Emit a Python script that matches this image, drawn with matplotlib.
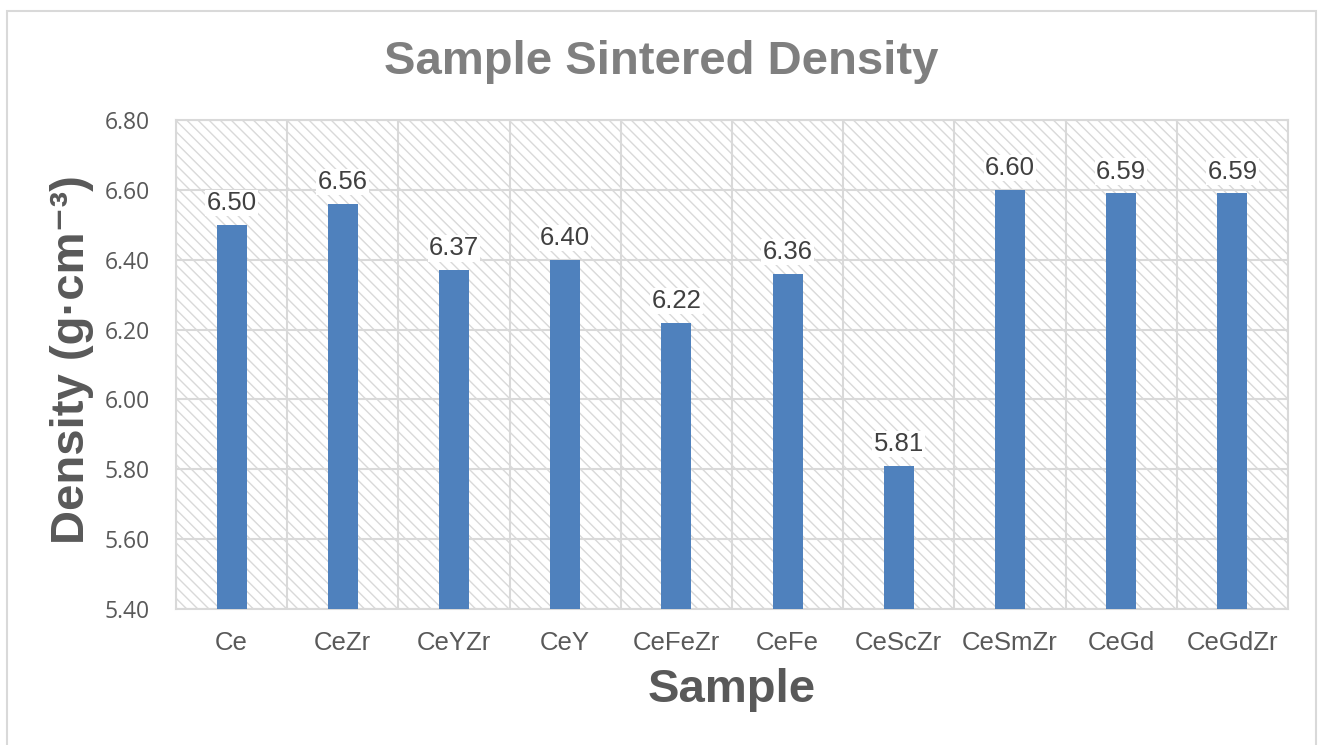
import matplotlib.pyplot as plt
from matplotlib.patches import Rectangle
from matplotlib.ticker import MultipleLocator, FixedLocator

plt.rcParams['hatch.color'] = '#d9d9d9'
plt.rcParams['hatch.linewidth'] = 1.0

samples = ['Ce', 'CeZr', 'CeYZr', 'CeY', 'CeFeZr', 'CeFe', 'CeScZr', 'CeSmZr', 'CeGd', 'CeGdZr']
density = [6.50, 6.56, 6.37, 6.40, 6.22, 6.36, 5.81, 6.60, 6.59, 6.59]

grid_col = '#d9d9d9'
text_col = '#595959'
bar_col = '#4f81bd'

fig = plt.figure(figsize=(13.18, 7.45), dpi=100)
ax = fig.add_axes([0.1335, 0.1826, 0.9772 - 0.1335, 0.8389 - 0.1826])

# hatched plot background
ax.patch.set_facecolor('white')
ax.patch.set_hatch('\\\\\\')
ax.patch.set_edgecolor(grid_col)
ax.patch.set_linewidth(0)

x = list(range(len(samples)))
bars = ax.bar(x, density, width=0.27, color=bar_col, zorder=3)

for xi, v in zip(x, density):
    ax.annotate(f'{v:.2f}', (xi, v), xytext=(0, 7), textcoords='offset points',
                ha='center', va='bottom', fontsize=18.5, family='Liberation Sans',
                color='#404040', zorder=4,
                bbox=dict(boxstyle='square,pad=0.05', fc='white', ec='none'))

ax.set_xlim(-0.5, len(samples) - 0.5)
ax.set_ylim(5.40, 6.80)
ax.yaxis.set_major_locator(MultipleLocator(0.2))
ax.yaxis.set_major_formatter(plt.FuncFormatter(lambda v, p: f'{v:.2f}'))
ax.set_xticks(x)
ax.set_xticklabels(samples, family='Liberation Sans', fontsize=18.5, color=text_col)
ax.xaxis.set_minor_locator(FixedLocator([i + 0.5 for i in range(-1, len(samples))]))

for lab in ax.get_yticklabels():
    lab.set_family('Open Sans')
    lab.set_fontsize(16.5)
    lab.set_color(text_col)

ax.tick_params(axis='both', which='both', length=0)
ax.tick_params(axis='x', pad=16)
ax.tick_params(axis='y', pad=19)

ax.grid(True, axis='y', which='major', color=grid_col, linewidth=1.5, zorder=1)
ax.grid(True, axis='x', which='minor', color=grid_col, linewidth=1.5, zorder=1)
ax.set_axisbelow(True)
for s in ax.spines.values():
    s.set_color(grid_col)
    s.set_linewidth(1.5)

fig.text(0.502, 1 - 62 / 745, 'Sample Sintered Density', ha='center', va='center',
         fontsize=34, fontweight='bold', family='Liberation Sans', color='#7f7f7f')
fig.text(0.555, 1 - 690 / 745, 'Sample', ha='center', va='center',
         fontsize=34, fontweight='bold', family='Liberation Sans', color=text_col)
fig.text(72 / 1318, 1 - 360 / 745, 'Density (g·cm⁻³)', ha='center', va='center',
         rotation=90, fontsize=34, fontweight='bold',
         family=['Liberation Sans', 'DejaVu Sans'], color=text_col)

# outer chart border
fig.patches.append(Rectangle((7 / 1318, -0.02), (1316 - 7) / 1318, 1.02 - 11 / 745,
                             transform=fig.transFigure, fill=False, ec=grid_col, lw=1.5))

fig.savefig('out.png', dpi=100)
